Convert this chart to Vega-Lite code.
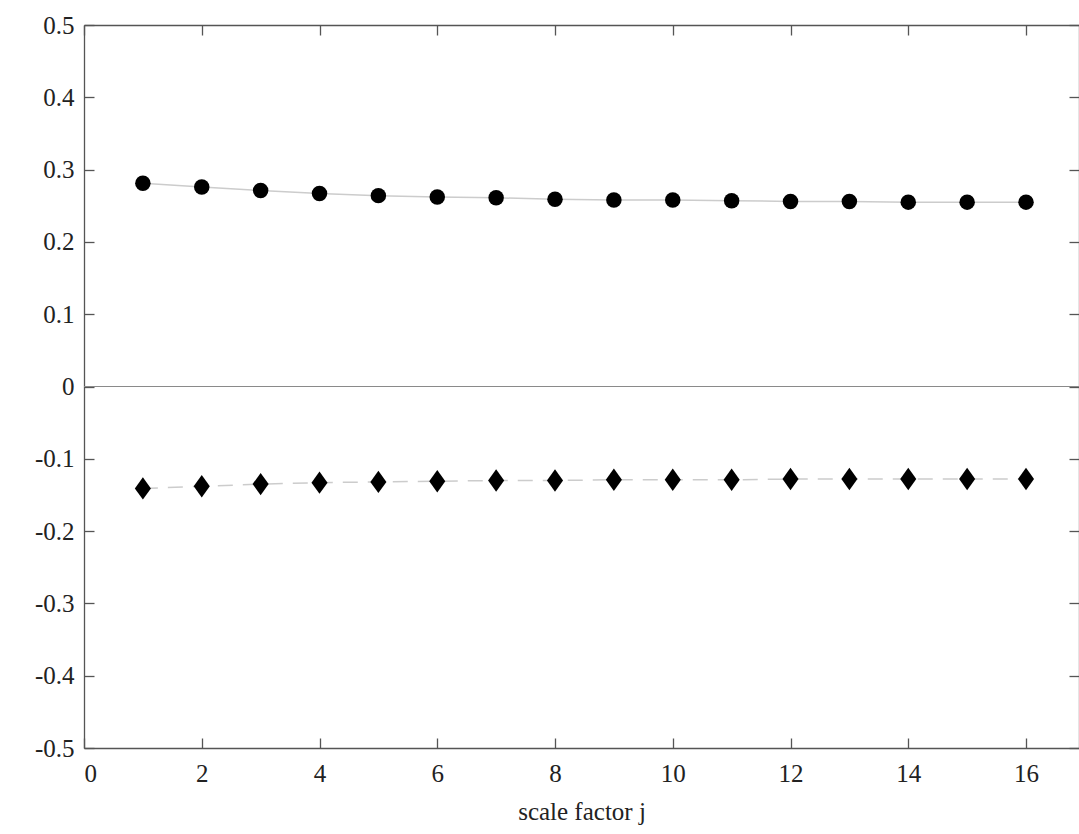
{
  "$schema": "https://vega.github.io/schema/vega-lite/v6.json",
  "autosize": "none",
  "width": 995,
  "height": 723,
  "padding": {"left": 84, "top": 25, "right": 0, "bottom": 86},
  "background": "white",
  "config": {
    "font": "Liberation Serif, serif",
    "view": {"stroke": null},
    "axis": {
      "labelFont": "Liberation Serif, serif",
      "titleFont": "Liberation Serif, serif",
      "labelFontSize": 25,
      "titleFontSize": 25,
      "labelColor": "#222222",
      "titleColor": "#222222",
      "titleFontWeight": "normal",
      "domainColor": "#555555",
      "tickColor": "#555555",
      "domainWidth": 1.3,
      "tickWidth": 1.3,
      "tickSize": -10,
      "grid": false
    }
  },
  "datasets": {
    "circles": [
      {"j": 1, "value": 0.281}, {"j": 2, "value": 0.276}, {"j": 3, "value": 0.271}, {"j": 4, "value": 0.267},
      {"j": 5, "value": 0.264}, {"j": 6, "value": 0.262}, {"j": 7, "value": 0.261}, {"j": 8, "value": 0.259},
      {"j": 9, "value": 0.258}, {"j": 10, "value": 0.258}, {"j": 11, "value": 0.257}, {"j": 12, "value": 0.256},
      {"j": 13, "value": 0.256}, {"j": 14, "value": 0.255}, {"j": 15, "value": 0.255}, {"j": 16, "value": 0.255}
    ],
    "diamonds": [
      {"j": 1, "value": -0.141}, {"j": 2, "value": -0.138}, {"j": 3, "value": -0.135}, {"j": 4, "value": -0.133},
      {"j": 5, "value": -0.132}, {"j": 6, "value": -0.131}, {"j": 7, "value": -0.130}, {"j": 8, "value": -0.130},
      {"j": 9, "value": -0.129}, {"j": 10, "value": -0.129}, {"j": 11, "value": -0.129}, {"j": 12, "value": -0.128},
      {"j": 13, "value": -0.128}, {"j": 14, "value": -0.128}, {"j": 15, "value": -0.128}, {"j": 16, "value": -0.128}
    ]
  },
  "resolve": {"axis": {"x": "independent", "y": "independent"}},
  "layer": [
    {
      "data": {"values": [{"z": 0}]},
      "mark": {"type": "rule", "color": "#8a8a8a", "strokeWidth": 1.2},
      "encoding": {
        "y": {"field": "z", "type": "quantitative", "scale": {"domain": [-0.5, 0.5], "nice": false}, "axis": null}
      }
    },
    {
      "data": {"name": "circles"},
      "mark": {"type": "line", "color": "#cccccc", "strokeWidth": 1.5},
      "encoding": {
        "x": {"field": "j", "type": "quantitative", "scale": {"domain": [0, 16.9], "nice": false},
              "axis": {"orient": "bottom", "values": [0, 2, 4, 6, 8, 10, 12, 14, 16], "title": "scale factor j",
                       "labelPadding": 23, "titlePadding": 13}},
        "y": {"field": "value", "type": "quantitative", "scale": {"domain": [-0.5, 0.5], "nice": false},
              "axis": {"orient": "left", "values": [-0.5, -0.4, -0.3, -0.2, -0.1, 0, 0.1, 0.2, 0.3, 0.4, 0.5], "title": null,
                       "labelExpr": "datum.value == 0 ? '0' : toString(round(datum.value * 10) / 10)",
                       "labelPadding": 20}}
      }
    },
    {
      "data": {"name": "diamonds"},
      "mark": {"type": "line", "color": "#cccccc", "strokeWidth": 1.5, "strokeDash": [15, 10]},
      "encoding": {
        "x": {"field": "j", "type": "quantitative",
              "axis": {"orient": "top", "values": [0, 2, 4, 6, 8, 10, 12, 14, 16], "labels": false, "title": null}},
        "y": {"field": "value", "type": "quantitative",
              "axis": {"orient": "right", "values": [-0.5, -0.4, -0.3, -0.2, -0.1, 0, 0.1, 0.2, 0.3, 0.4, 0.5], "labels": false, "title": null}}
      }
    },
    {
      "data": {"name": "circles"},
      "mark": {"type": "point", "shape": "circle", "filled": true, "color": "black", "opacity": 1, "size": 240},
      "encoding": {
        "x": {"field": "j", "type": "quantitative", "axis": null},
        "y": {"field": "value", "type": "quantitative", "axis": null}
      }
    },
    {
      "data": {"name": "diamonds"},
      "mark": {"type": "point", "shape": "M0,-1L0.72,0L0,1L-0.72,0Z", "filled": true, "color": "black", "opacity": 1, "size": 500},
      "encoding": {
        "x": {"field": "j", "type": "quantitative", "axis": null},
        "y": {"field": "value", "type": "quantitative", "axis": null}
      }
    }
  ]
}
